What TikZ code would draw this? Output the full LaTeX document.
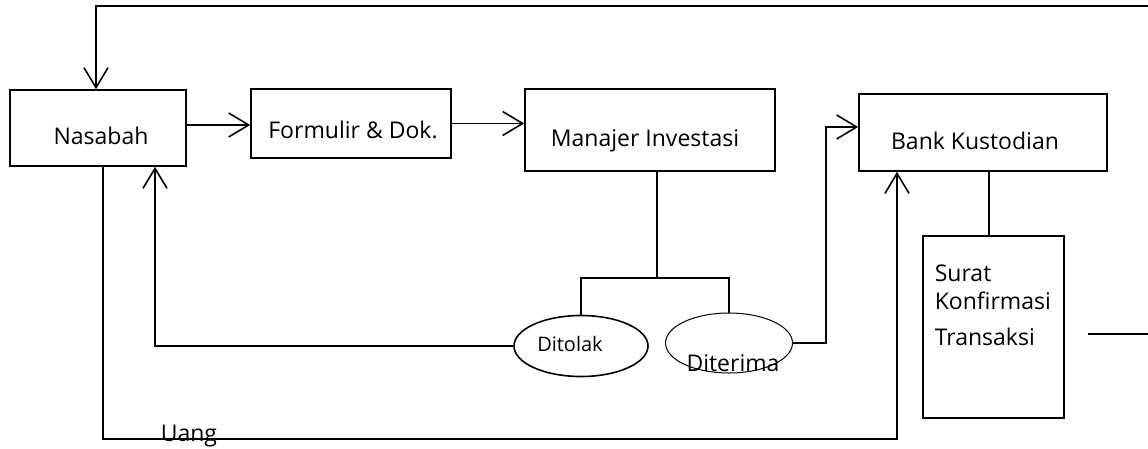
\documentclass[tikz,border=0pt]{standalone}
\usepackage{fontspec}
\setmainfont{Open Sans}
\usetikzlibrary{arrows.meta,shapes.geometric}

\tikzset{
  box/.style={draw,rectangle,inner sep=0pt},
  oval/.style={draw,ellipse,inner sep=0pt},
  txt/.style={inner sep=0pt,anchor=base},
  arr/.style={-{Straight Barb[length=20pt,width=24pt]}},
}

\begin{document}
\begin{tikzpicture}[x=1pt,y=-1pt,line width=1.6pt,font=\fontsize{23pt}{27pt}\selectfont]
  \useasboundingbox (0,0) rectangle (1148,448);

  % boxes
  \node[box,minimum width=176pt,minimum height=76pt] (nasabah) at (98,128) {};
  \node[box,minimum width=200pt,minimum height=69pt] (formulir) at (351,123.5) {};
  \node[box,minimum width=250pt,minimum height=82pt] (manajer) at (650,130) {};
  \node[box,minimum width=248pt,minimum height=77pt] (bank) at (983,132.5) {};
  \node[box,minimum width=141pt,minimum height=182pt] (surat) at (993.5,327) {};
  \node[oval,minimum width=134pt,minimum height=61pt] (ditolak) at (581,346) {};
  \node[oval,line width=1pt,minimum width=127pt,minimum height=60pt] (diterima) at (729,343) {};

  % texts
  \node[txt] (nasabah-t) at (101,144) {Nasabah};
  \node[txt] (formulir-t) at (353,138) {Formulir \& Dok.};
  \node[txt] (manajer-t) at (645,146) {Manajer Investasi};
  \node[txt] (bank-t) at (975,149) {Bank Kustodian};
  \node[txt,anchor=base west] (surat-a) at (934,281) {Surat};
  \node[txt,anchor=base west] (surat-b) at (934,309) {Konfirmasi};
  \node[txt,anchor=base west] (surat-c) at (934,345) {Transaksi};
  \node[txt,font=\fontsize{20pt}{24pt}\selectfont] (ditolak-t) at (570,351) {Ditolak};
  \node[txt] (diterima-t) at (733,371) {Diterima};
  \node[txt,anchor=base west] (uang) at (160,441) {Uang};

  % free ends
  \coordinate (top) at (1148,6);
  \coordinate (split) at (657,278);
  \coordinate (base) at (0,439);
  \coordinate (out1) at (1088,334);
  \coordinate (out2) at (1148,334);

  % connectors
  \draw[arr] (top) -| ([xshift=-2pt]nasabah.north);
  \draw[arr] ([yshift=3pt]nasabah.east) -- ([yshift=3pt]nasabah.east -| formulir.west);
  \draw[arr] (formulir.east) -- (formulir.east -| manajer.west);
  \draw (manajer.south -| split) -- (split);
  \draw (ditolak.north) -- (ditolak.north |- split) -- (diterima.north |- split) -- (diterima.north);
  \draw[arr] (ditolak.west) -| ([xshift=57pt]nasabah.south);
  \draw[arr] (diterima.east) -- ++(33,0) |- ([yshift=5.5pt]bank.west);
  \draw ([xshift=6pt]bank.south) -- ([xshift=6pt]bank.south |- surat.north);
  \draw (out1) -- (out2);
  \draw[arr] ([xshift=5pt]nasabah.south) |- ([xshift=-86pt]bank.south |- base) -- ([xshift=-86pt]bank.south);
\end{tikzpicture}
\end{document}
